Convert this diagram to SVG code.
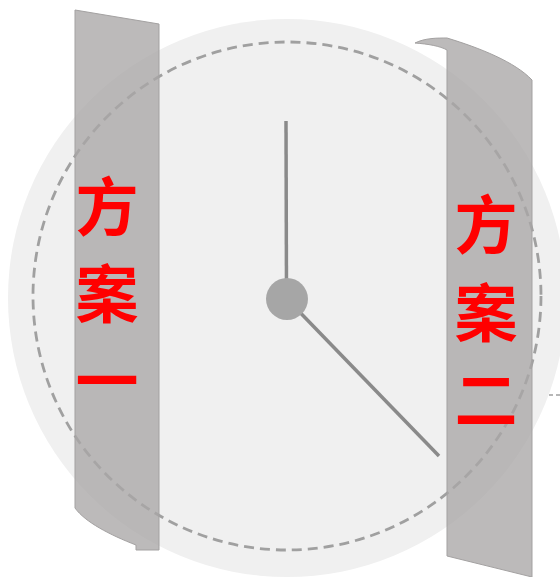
<svg xmlns="http://www.w3.org/2000/svg" width="560" height="577" viewBox="0 0 560 577">
<style>
.panel{fill:#a9a7a7;fill-opacity:0.78;stroke:#a3a1a1;stroke-width:1}
.lbl{font-family:"Noto Sans CJK SC","Noto Sans",sans-serif;font-weight:bold;font-size:63px;fill:#ff0000;text-anchor:middle;dominant-baseline:central}
.hand{stroke:#8a8a8a;stroke-width:3.5;stroke-linecap:butt;fill:none}
</style>
<rect width="560" height="577" fill="#ffffff"/>
<g id="clock">
<circle cx="287" cy="298" r="279" fill="#f0f0f0"/>
<circle cx="287" cy="296" r="254" fill="none" stroke="#a0a0a0" stroke-width="2.8" stroke-dasharray="10,6"/>
<line x1="549" y1="395" x2="560" y2="395" stroke="#a0a0a0" stroke-width="1.5" stroke-dasharray="4,3"/>
<line class="hand" x1="286" y1="121" x2="286.5" y2="298"/>
<line class="hand" x1="287" y1="299" x2="439" y2="456"/>
<circle cx="287" cy="299" r="21" fill="#a6a6a6"/>
</g>
<g id="panel1">
<path class="panel" d="M75,10 L159,24 L159,550 L136,550 L136,545 C110,535 85,522 75,508 Z"/>
<text class="lbl" x="107" y="202">方</text>
<text class="lbl" x="107" y="289">案</text>
<text class="lbl" x="107" y="376">一</text>
</g>
<g id="panel2">
<path class="panel" d="M415,43 C425,38 437,38 447,38 C480,48 515,62 532,80 L532,577 L447,556 L447,50 C440,46 428,44 415,43 Z"/>
<text class="lbl" x="486" y="220">方</text>
<text class="lbl" x="486" y="308">案</text>
<text class="lbl" x="486" y="395">二</text>
</g>
</svg>
